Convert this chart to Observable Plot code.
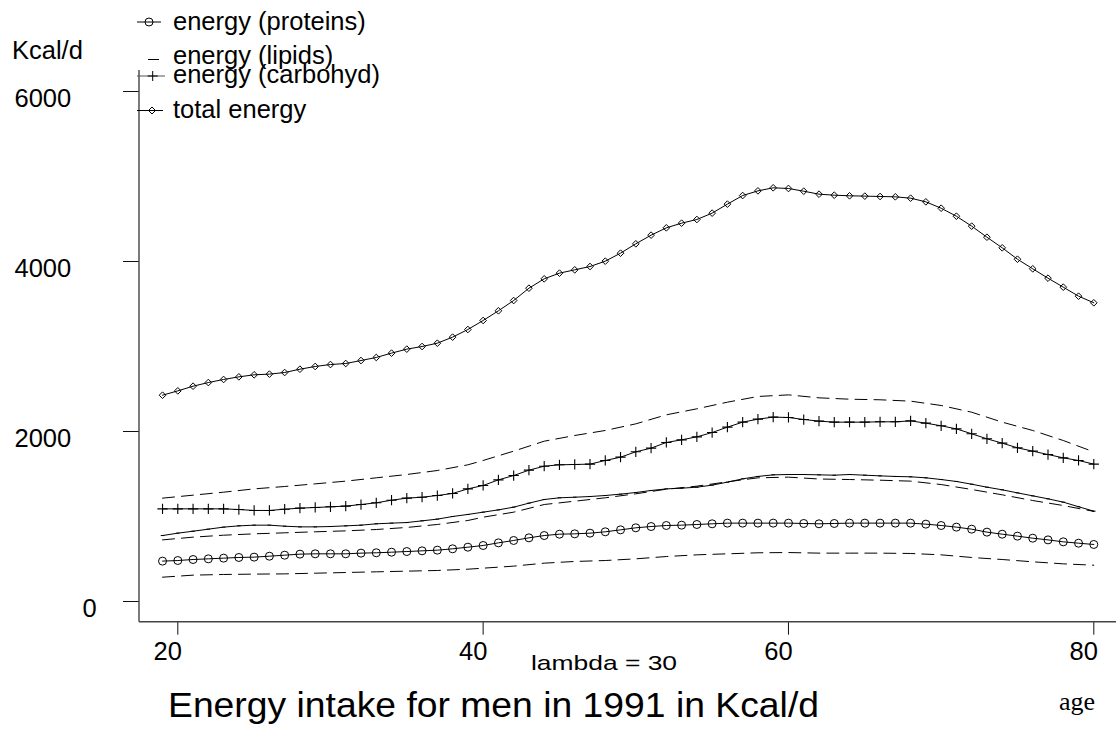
<!DOCTYPE html>
<html><head><meta charset="utf-8">
<script src="https://cdn.jsdelivr.net/npm/d3@7"></script>
<script src="https://cdn.jsdelivr.net/npm/@observablehq/plot@0.6"></script>
<style>
body{margin:0;background:#fff;}
#wrap{position:relative;width:1116px;height:729px;overflow:hidden;}
#wrap svg{position:absolute;left:0;top:0;}
text{font-family:"Liberation Sans",Arial,sans-serif;}
</style></head><body><div id="wrap"></div>
<script>
// ---- data ----
const ages = [19,20,21,22,23,24,25,26,27,28,29,30,31,32,33,34,35,36,37,38,39,40,41,42,43,44,45,46,47,48,49,50,
  51,52,53,54,55,56,57,58,59,60,61,62,63,64,65,66,67,68,69,70,71,72,73,74,75,76,77,78,79,80];
const totalEnergy = [2427,2478,2533,2576,2612,2643,2667,2675,2694,2733,2765,2788,2800,2835,2871,2922,2969,3000,3039,3110,3200,3306,3420,3541,3686,3796,3863,3902,3941,4004,4098,
  4208,4310,4396,4451,4494,4569,4675,4776,4831,4867,4859,4827,4792,4780,4773,4769,4765,4761,4745,4702,4627,4533,4416,4286,4161,4027,3914,3804,3698,3592,3514];
const carbohyd = [1090,1090,1090,1090,1090,1082,1071,1071,1086,1098,1106,1114,1122,1141,1161,1192,1216,1227,1247,1271,1325,
  1365,1431,1482,1545,1592,1608,1612,1616,1659,1698,1761,1804,1871,1902,1937,1988,2051,2110,2145,2169,2165,2141,2122,
  2110,2110,2110,2114,2114,2125,2098,2067,2031,1973,1914,1863,1808,1769,1729,1690,1659,1616];
const lipids = [776,804,827,851,875,890,898,898,886,878,878,882,890,898,914,922,929,949,969,1000,1024,
  1051,1078,1110,1157,1200,1220,1227,1235,1247,1263,1282,1306,1325,1333,1345,1369,1404,1443,1471,1490,1494,1494,1490,
  1486,1494,1486,1478,1471,1467,1455,1435,1412,1380,1345,1314,1278,1243,1208,1169,1115,1063];
const proteins = [475,482,494,502,510,518,522,533,545,557,561,561,561,569,573,580,588,596,604,620,639,
  659,690,718,749,776,792,796,804,820,843,867,882,894,898,906,914,922,922,922,922,922,918,914,
  918,922,922,922,922,922,910,894,875,851,816,792,769,745,725,702,686,671];
// dashed curves (sampled)
const dashAges = [19,21,23,25,27,29,31,33,35,37,39,40,42,44,46,48,50,52,54,56,58,60,62,64,66,68,70,72,74,76,78,80];
const dashUpper = [1216,1251,1286,1325,1353,1384,1416,1455,1494,1541,1608,1659,1769,1886,1953,2012,2090,2196,2267,2345,2412,2431,2396,2380,2373,2357,2306,2227,2110,2012,1894,1760];
const dashMiddle = [725,757,780,796,808,820,831,847,871,906,953,992,1051,1141,1180,1220,1267,1321,1357,1408,1455,1463,1441,1435,1427,1416,1376,1318,1255,1188,1129,1060];
const dashLower = [286,310,318,322,325,333,341,349,357,365,380,392,416,451,471,482,502,529,549,561,573,576,569,569,569,565,549,518,494,467,443,427];

const xTicks = [20,40,60,80];
const yTicks = [0,2000,4000,6000];
const legendLabels = ["energy (proteins)","energy (lipids)","energy (carbohyd)","total energy"];
const titleText = "Energy intake for men in 1991 in Kcal/d";
const subText = "lambda = 30";
const xLabel = "age";
const yLabel = "Kcal/d";

// ---- tables ----
const solid = (vals) => ages.map((a,i)=>({age:a, v:vals[i]}));
const dashed = (vals) => dashAges.map((a,i)=>({age:a, v:vals[i]}));
const tTot = solid(totalEnergy), tCarb = solid(carbohyd), tLip = solid(lipids), tProt = solid(proteins);

const minus = {draw(ctx, size){ const r = Math.sqrt(size)*0.5; ctx.moveTo(-r,0); ctx.lineTo(r,0);} };

const dash = "12,7";
const W = 1116, H = 729, mL = 139, mB = 107.3, mT = 70;
const chart = Plot.plot({
  width:W, height:H,
  marginLeft:mL, marginRight:0, marginTop:mT, marginBottom:mB,
  style:{fontFamily:'"Liberation Sans",Arial,sans-serif', background:"transparent", overflow:"visible"},
  x:{domain:[20,80], range:[177.3,1093.3]},
  y:{domain:[0,6000], range:[601,91]},
  marks:[
    Plot.axisY({anchor:"left", ticks:yTicks, tickSize:16, tickFormat:()=>"", stroke:"#111", label:null}),
    Plot.axisX({anchor:"bottom", ticks:xTicks, tickSize:13, tickFormat:()=>"", stroke:"#111", label:null}),
    Plot.text(yTicks.filter(d=>String(d).length===1), {ariaLabel:"ytick-short", y:d=>d, frameAnchor:"left", text:d=>String(d), textAnchor:"start", dx:-57, dy:7, fontSize:25.5, fill:"black"}),
    Plot.text(yTicks.filter(d=>String(d).length>1), {ariaLabel:"ytick-long", y:d=>d, frameAnchor:"left", text:d=>String(d), textAnchor:"start", dx:-125, dy:7, fontSize:25.5, fill:"black"}),
    Plot.text(xTicks, {x:d=>d, frameAnchor:"bottom", text:d=>String(d), lineAnchor:"top", dx:-10, dy:20, fontSize:25.5, fill:"black"}),
    Plot.line(dashed(dashUpper), {x:"age", y:"v", stroke:"black", strokeWidth:1, strokeDasharray:dash}),
    Plot.line(dashed(dashMiddle), {x:"age", y:"v", stroke:"black", strokeWidth:1, strokeDasharray:dash}),
    Plot.line(dashed(dashLower), {x:"age", y:"v", stroke:"black", strokeWidth:1, strokeDasharray:dash}),
    Plot.line(tTot, {x:"age", y:"v", stroke:"black", strokeWidth:1}),
    Plot.line(tCarb, {x:"age", y:"v", stroke:"black", strokeWidth:1}),
    Plot.line(tLip, {x:"age", y:"v", stroke:"black", strokeWidth:1}),
    Plot.line(tProt, {x:"age", y:"v", stroke:"black", strokeWidth:1}),
    Plot.dot(tTot, {x:"age", y:"v", symbol:"diamond2", r:3, stroke:"black", fill:"none", strokeWidth:1}),
    Plot.dot(tCarb, {x:"age", y:"v", symbol:"plus", r:3.4, stroke:"black", strokeWidth:1.1}),
    Plot.dot(tLip, {x:"age", y:"v", symbol:minus, r:2, stroke:"black", strokeWidth:1}),
    Plot.dot(tProt, {x:"age", y:"v", symbol:"circle", r:4, stroke:"black", fill:"none", strokeWidth:1})
  ]
});
document.getElementById("wrap").appendChild(chart);
// stretch the wide y tick labels like the reference
d3.select(chart).selectAll('g[aria-label="ytick-long"] text').attr("textLength",74).attr("lengthAdjust","spacingAndGlyphs");

// ---- overlay: axis lines, legend, y label, subtitle, title, x label ----
const ov = d3.select("#wrap").append("svg").attr("width",W).attr("height",H);
ov.append("line").attr("x1",mL).attr("x2",mL).attr("y1",mT).attr("y2",H-mB).attr("stroke","#444").attr("stroke-width",1.4);
ov.append("line").attr("x1",mL).attr("x2",W).attr("y1",H-mB).attr("y2",H-mB).attr("stroke","#444").attr("stroke-width",1.4);
const T = (x,y,s,fs,anchor,family) => ov.append("text").attr("x",x).attr("y",y).attr("font-size",fs)
  .attr("text-anchor",anchor||"start").attr("fill","black").style("font-family",family||'"Liberation Sans",Arial,sans-serif').text(s);
T(12,59,yLabel,25.5);
// legend rows
const rows = [{y:22, base:29.5}, {y:59.5, base:63.5}, {y:76, base:83}, {y:110.5, base:117.5}];
const g = ov.append("g").attr("stroke","black").attr("fill","none").attr("stroke-width",1);
// proteins
g.append("line").attr("x1",137).attr("x2",161).attr("y1",rows[0].y).attr("y2",rows[0].y);
g.append("circle").attr("cx",149).attr("cy",rows[0].y).attr("r",4);
// lipids
g.append("line").attr("x1",148).attr("x2",159).attr("y1",rows[1].y).attr("y2",rows[1].y);
// carbohyd
g.append("line").attr("x1",137).attr("x2",165).attr("y1",rows[2].y).attr("y2",rows[2].y).attr("stroke","#555");
g.append("line").attr("x1",152.7).attr("x2",152.7).attr("y1",rows[2].y-5).attr("y2",rows[2].y+5);
g.append("line").attr("x1",147.7).attr("x2",157.7).attr("y1",rows[2].y).attr("y2",rows[2].y);
// total
g.append("line").attr("x1",137).attr("x2",163).attr("y1",rows[3].y).attr("y2",rows[3].y);
g.append("path").attr("d",`M152,${rows[3].y-3.5}L155.5,${rows[3].y}L152,${rows[3].y+3.5}L148.5,${rows[3].y}Z`);
legendLabels.forEach((s,i)=>T(173, rows[i].base, s, 25.5));
T(531,670,subText,21).attr("textLength",146).attr("lengthAdjust","spacingAndGlyphs");
T(168,717,titleText,35).attr("textLength",651).attr("lengthAdjust","spacingAndGlyphs");
T(1059,710,xLabel,26,"start",'"Liberation Serif","Times New Roman",serif');
</script>
</body></html>
